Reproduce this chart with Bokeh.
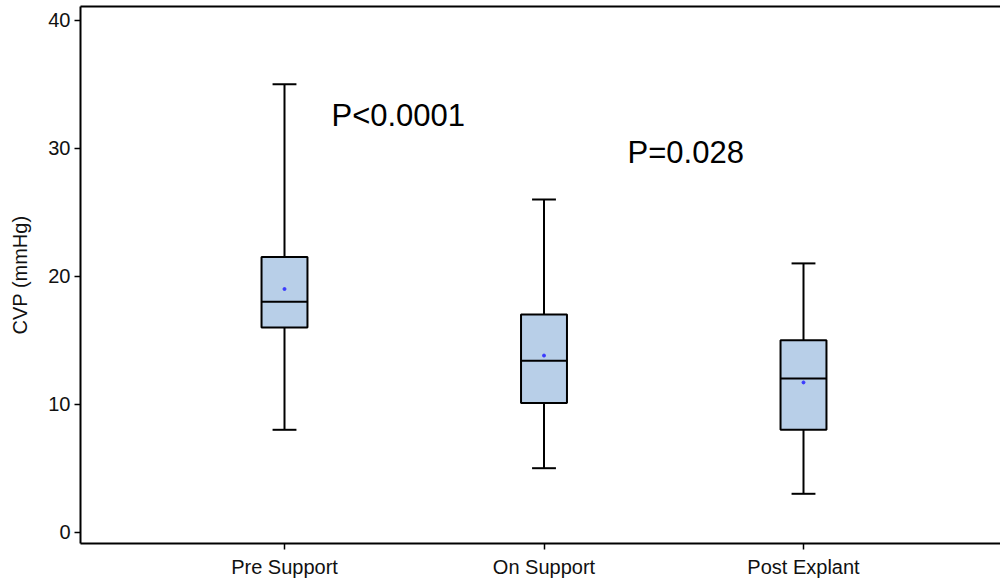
from bokeh.plotting import figure
from bokeh.models import Range1d, FixedTicker, LinearAxis, Label
from bokeh.embed import file_html
from bokeh.resources import INLINE

# ---- data ----
groups = ["Pre Support", "On Support", "Post Explant"]
whisker_low = [8, 5, 3]
q1 = [16, 10.1, 8]
median = [18, 13.4, 12]
q3 = [21.5, 17, 15]
whisker_high = [35, 26, 21]
mean = [19, 13.8, 11.7]
y_ticks = [0, 10, 20, 30, 40]
p_labels = ["P<0.0001", "P=0.028"]

xs = [1, 2, 3]
px_per_cat = 259.5
px_per_unit = 12.8
frame_w, frame_h = 920, 537
x0 = 1 - (285 - 81) / px_per_cat
y0 = -(544 - 532.7) / px_per_unit

FONT = "Liberation Sans"

p = figure(frame_width=frame_w, frame_height=frame_h, output_backend="svg", toolbar_location=None,
           x_range=Range1d(x0, x0 + frame_w / px_per_cat),
           y_range=Range1d(y0, y0 + frame_h / px_per_unit),
           min_border_left=80, min_border_right=0, min_border_top=6, min_border_bottom=30)
p.outline_line_color = None
p.xgrid.visible = False
p.ygrid.visible = False

# whiskers
p.segment(x0=xs, y0=q3, x1=xs, y1=whisker_high, line_color="black", line_width=2)
p.segment(x0=xs, y0=q1, x1=xs, y1=whisker_low, line_color="black", line_width=2)
cap = 0.046
p.segment(x0=[x - cap for x in xs], y0=whisker_high, x1=[x + cap for x in xs], y1=whisker_high,
          line_color="black", line_width=2)
p.segment(x0=[x - cap for x in xs], y0=whisker_low, x1=[x + cap for x in xs], y1=whisker_low,
          line_color="black", line_width=2)
# boxes
p.vbar(x=xs, width=0.177, bottom=q1, top=q3, fill_color="#b8cfe8", line_color="black", line_width=2)
hw = 0.0885
p.segment(x0=[x - hw for x in xs], y0=median, x1=[x + hw for x in xs], y1=median,
          line_color="black", line_width=2)
# means
p.scatter(x=xs, y=mean, size=3, color="#3a3aff")

# annotations
p.add_layout(Label(x=1.181, y=31.2, text=p_labels[0], text_font=FONT, text_font_size="31px",
                   text_color="black"))
p.add_layout(Label(x=2.322, y=28.3, text=p_labels[1], text_font=FONT, text_font_size="31px",
                   text_color="black"))

# axes
p.yaxis.ticker = FixedTicker(ticks=y_ticks)
p.yaxis.axis_label = "CVP (mmHg)"
p.xaxis.ticker = FixedTicker(ticks=xs)
p.xaxis.major_label_overrides = {x: g for x, g in zip(xs, groups)}
for ax in (p.xaxis[0], p.yaxis[0]):
    ax.axis_line_width = 2
    ax.axis_line_color = "black"
    ax.major_tick_line_width = 1.5
    ax.major_tick_line_color = "black"
    ax.major_tick_out = 6
    ax.major_tick_in = 0
    ax.minor_tick_line_color = None
    ax.major_label_text_font = FONT
    ax.major_label_text_font_size = "20px"
    ax.major_label_text_color = "#111111"
p.yaxis.major_label_standoff = 4
p.xaxis.major_label_standoff = 6
p.yaxis.axis_label_text_font = FONT
p.yaxis.axis_label_text_font_size = "20px"
p.yaxis.axis_label_text_font_style = "normal"
p.yaxis.axis_label_text_color = "#111111"
p.yaxis.axis_label_standoff = 14

top = LinearAxis(ticker=FixedTicker(ticks=[]), axis_line_width=2, axis_line_color="black",
                 major_tick_line_color=None, minor_tick_line_color=None,
                 major_label_text_font_size="0px", major_tick_out=0, major_tick_in=0)
p.add_layout(top, "above")

open("out.html", "w").write(file_html(p, INLINE))
